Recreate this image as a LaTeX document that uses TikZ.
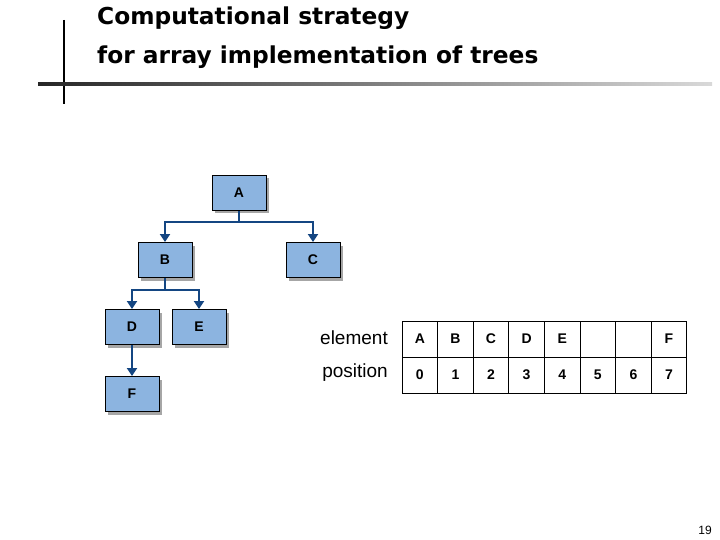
\documentclass[tikz,border=0pt]{standalone}
\usepackage{fontspec}
\setmainfont{Liberation Sans}
\newfontfamily\titlefont{DejaVu Sans}
\usetikzlibrary{arrows.meta,shadows}
\definecolor{boxfill}{RGB}{140,180,224}
\definecolor{edgeblue}{RGB}{20,70,130}
\begin{document}
\begin{tikzpicture}[x=1pt,y=-1pt,
  tbox/.style={draw=black,line width=0.9pt,fill=boxfill,minimum width=54pt,minimum height=35pt,inner sep=0pt,font=\bfseries\fontsize{14}{16}\selectfont,drop shadow={shadow xshift=3pt,shadow yshift=-3pt,fill=gray!70,opacity=1}},
  conn/.style={draw=edgeblue,line width=2pt},
  arr/.style={conn,-{Triangle[length=8pt,width=10pt]}},
  cell/.style={draw=black,line width=0.9pt,minimum width=35.6pt,minimum height=36pt,inner sep=0pt,font=\bfseries\fontsize{14}{16}\selectfont},
  lbl/.style={anchor=east,font=\fontsize{19}{22}\selectfont,inner sep=0pt}]
\useasboundingbox (0,0) rectangle (720,540);
\fill[white] (0,0) rectangle (720,540);
% title decorations
\draw[line width=2pt,black] (64,20) -- (64,104);
\shade[left color=black!85,right color=black!15] (38,82.5) rectangle (712,85.5);
\node[anchor=west,font=\titlefont\bfseries\fontsize{23.3}{39}\selectfont,align=left,inner sep=0pt] (title) at (97,38) {Computational strategy\\for array implementation of trees};
% tree
\node[tbox] (A) at (239,193) {A};
\node[tbox] (B) at (165,260) {B};
\node[tbox] (C) at (313,260) {C};
\node[tbox] (D) at (132,327) {D};
\node[tbox] (E) at (199,327) {E};
\node[tbox] (F) at (132,394) {F};
\coordinate (ja) at (239,222);
\coordinate (jb) at (165,290);
\draw[conn] (A.south) -- (ja);
\draw[arr] (ja) -| (B.north);
\draw[arr] (ja) -| (C.north);
\draw[conn] (B.south) -- (jb);
\draw[arr] (jb) -| (D.north);
\draw[arr] (jb) -| (E.north);
\draw[arr] (D.south) -- (F.north);
% table
\foreach \i/\l in {0/A,1/B,2/C,3/D,4/E,5/{},6/{},7/F}{
  \node[cell] (e\i) at ({419.8+35.6*\i},339) {\l};
  \node[cell] (p\i) at ({419.8+35.6*\i},375) {\i};
}
\node[lbl] (el) at (388,338) {element};
\node[lbl] (po) at (388,373) {position};
\node[font=\fontsize{12}{14}\selectfont] (pg) at (705,530) {19};
\end{tikzpicture}
\end{document}
